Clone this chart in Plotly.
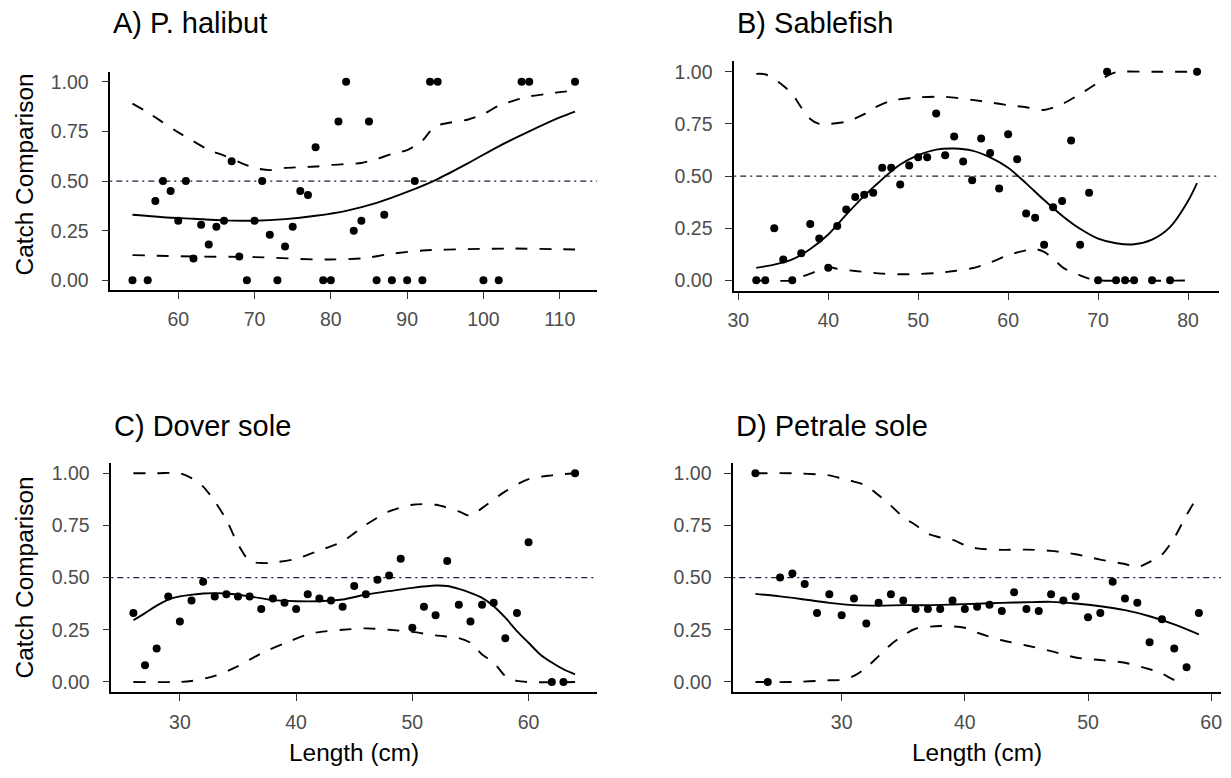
import plotly.graph_objects as go

# ---------------- A) P. halibut ----------------
hal_len = [54, 56, 57, 58, 59, 60, 61, 62, 63, 64, 65, 66, 67, 68, 69, 70, 71, 72, 73, 74, 75, 76,
           77, 78, 79, 80, 81, 82, 83, 84, 85, 86, 87, 88, 90, 91, 92, 93, 94, 100, 102, 105, 106, 112]
hal_obs = [0, 0, 0.40, 0.50, 0.45, 0.30, 0.50, 0.11, 0.28, 0.18, 0.27, 0.30, 0.60, 0.12, 0, 0.30,
           0.50, 0.23, 0, 0.17, 0.27, 0.45, 0.43, 0.67, 0, 0, 0.80, 1.0, 0.25, 0.30, 0.80, 0, 0.33,
           0, 0, 0.50, 0, 1, 1, 0, 0, 1, 1, 1]
hal_fit_len = [54, 58, 62, 66, 70, 74, 78, 82, 86, 90, 94, 98, 102, 106, 110, 112]
hal_fit = [0.33, 0.318, 0.31, 0.302, 0.30, 0.308, 0.325, 0.35, 0.39, 0.445, 0.51, 0.59, 0.675,
           0.75, 0.82, 0.85]
hal_hi_len = [54, 56, 58, 60, 62, 64, 66, 68, 70, 72, 74, 76, 78, 80, 84, 86, 88, 90, 92, 93, 94,
              95, 98, 100, 102, 104, 106, 108, 110, 112]
hal_hi = [0.89, 0.846, 0.795, 0.745, 0.70, 0.657, 0.628, 0.595, 0.566, 0.555, 0.566, 0.57, 0.573,
          0.581, 0.591, 0.611, 0.636, 0.656, 0.703, 0.75, 0.78, 0.79, 0.81, 0.837, 0.879, 0.905,
          0.926, 0.937, 0.948, 0.955]
hal_lo_len = [54, 62, 70, 78, 80, 84, 88, 92, 98, 104, 112]
hal_lo = [0.127, 0.12, 0.117, 0.105, 0.105, 0.11, 0.134, 0.15, 0.157, 0.16, 0.155]

# ---------------- B) Sablefish ----------------
sab_len = [32, 33, 34, 35, 36, 37, 38, 39, 40, 41, 42, 43, 44, 45, 46, 47, 48, 49, 50, 51, 52, 53,
           54, 55, 56, 57, 58, 59, 60, 61, 62, 63, 64, 65, 66, 67, 68, 69, 70, 71, 72, 73, 74, 76,
           78, 81]
sab_obs = [0, 0, 0.25, 0.10, 0, 0.13, 0.27, 0.20, 0.06, 0.26, 0.34, 0.40, 0.41, 0.42, 0.54, 0.54,
           0.46, 0.55, 0.59, 0.59, 0.80, 0.60, 0.69, 0.57, 0.48, 0.68, 0.61, 0.44, 0.70, 0.58, 0.32,
           0.30, 0.17, 0.35, 0.38, 0.67, 0.17, 0.42, 0, 1, 0, 0, 0, 0, 0, 1]
sab_fit_len = [32, 34, 36, 38, 40, 42, 44, 46, 48, 50, 52, 54, 56, 58, 60, 62, 64, 66, 68, 70, 72,
               74, 76, 78, 80, 81]
sab_fit = [0.06, 0.075, 0.10, 0.15, 0.22, 0.315, 0.405, 0.485, 0.555, 0.60, 0.627, 0.632, 0.622,
           0.59, 0.54, 0.465, 0.385, 0.31, 0.247, 0.20, 0.178, 0.173, 0.195, 0.255, 0.38, 0.466]
sab_hi_len = [32, 33, 34, 35, 36, 37, 38, 39, 40, 42, 44, 45, 47, 50, 53, 56, 58, 60, 62, 64, 66,
              68, 70, 71, 72, 76, 81]
sab_hi = [0.99, 0.988, 0.965, 0.933, 0.893, 0.829, 0.774, 0.75, 0.75, 0.761, 0.797, 0.825, 0.861,
          0.877, 0.88, 0.865, 0.853, 0.84, 0.83, 0.817, 0.845, 0.893, 0.949, 0.98, 0.998, 1, 1]
sab_lo_len = [32, 36, 37, 38, 40, 41, 43, 46, 49, 52, 54, 56, 58, 60, 62, 63, 64, 65, 66, 67, 68,
              69, 70, 81]
sab_lo = [0, 0, 0.016, 0.032, 0.064, 0.055, 0.045, 0.032, 0.029, 0.035, 0.045, 0.058, 0.085, 0.121,
          0.144, 0.15, 0.136, 0.104, 0.064, 0.04, 0.024, 0.008, 0, 0]

# ---------------- C) Dover sole ----------------
dov_len = [26, 27, 28, 29, 30, 31, 32, 33, 34, 35, 36, 37, 38, 39, 40, 41, 42, 43, 44, 45, 46, 47,
           48, 49, 50, 51, 52, 53, 54, 55, 56, 57, 58, 59, 60, 62, 63, 64]
dov_obs = [0.33, 0.08, 0.16, 0.41, 0.29, 0.39, 0.48, 0.41, 0.42, 0.41, 0.41, 0.35, 0.40, 0.38, 0.35,
           0.42, 0.40, 0.39, 0.36, 0.46, 0.42, 0.49, 0.51, 0.59, 0.26, 0.36, 0.32, 0.58, 0.37, 0.29,
           0.37, 0.38, 0.21, 0.33, 0.67, 0, 0, 1]
dov_fit_len = [26, 27, 28, 29, 30, 31, 32, 34, 36, 38, 40, 42, 44, 46, 48, 50, 52, 53, 54, 55, 56,
               57, 58, 59, 60, 61, 62, 63, 64]
dov_fit = [0.296, 0.33, 0.366, 0.395, 0.41, 0.418, 0.424, 0.424, 0.41, 0.392, 0.387, 0.387, 0.395,
           0.419, 0.435, 0.451, 0.462, 0.46, 0.446, 0.427, 0.403, 0.363, 0.308, 0.244, 0.188,
           0.132, 0.093, 0.061, 0.037]
dov_hi_len = [26, 28, 30, 31, 32, 33, 34, 35, 36, 37, 38, 40, 42, 44, 46, 48, 50, 52, 54, 55, 56,
              58, 60, 62, 64]
dov_hi = [1, 1, 1, 0.977, 0.936, 0.865, 0.777, 0.66, 0.58, 0.57, 0.572, 0.59, 0.63, 0.674, 0.753,
          0.817, 0.849, 0.849, 0.817, 0.796, 0.833, 0.913, 0.972, 0.99, 1.0]
dov_lo_len = [26, 30, 31, 33, 35, 37, 39, 41, 42, 44, 46, 48, 50, 52, 54, 55, 56, 57, 58, 59, 64]
dov_lo = [0, 0, 0.005, 0.029, 0.076, 0.137, 0.185, 0.228, 0.239, 0.25, 0.257, 0.25, 0.24, 0.223,
          0.21, 0.188, 0.132, 0.093, 0.029, 0.005, 0]

# ---------------- D) Petrale sole ----------------
pet_len = [23, 24, 25, 26, 27, 28, 29, 30, 31, 32, 33, 34, 35, 36, 37, 38, 39, 40, 41, 42, 43, 44,
           45, 46, 47, 48, 49, 50, 51, 52, 53, 54, 55, 56, 57, 58, 59]
pet_obs = [1, 0, 0.50, 0.52, 0.47, 0.33, 0.42, 0.32, 0.40, 0.28, 0.38, 0.42, 0.39, 0.35, 0.35, 0.35,
           0.39, 0.35, 0.36, 0.37, 0.34, 0.43, 0.35, 0.34, 0.42, 0.39, 0.41, 0.31, 0.33, 0.48, 0.40,
           0.38, 0.19, 0.30, 0.16, 0.07, 0.33]
pet_fit_len = [23, 25, 27, 29, 31, 33, 35, 37, 39, 41, 43, 45, 47, 49, 51, 53, 55, 57, 59]
pet_fit = [0.422, 0.41, 0.395, 0.379, 0.368, 0.366, 0.368, 0.368, 0.371, 0.375, 0.379, 0.382,
           0.384, 0.376, 0.363, 0.344, 0.315, 0.276, 0.228]
pet_hi_len = [23, 26, 28, 29, 30, 31, 32, 33, 34, 35, 36, 37, 38, 39, 40, 41, 43, 45, 47, 49, 51,
              53, 54, 55, 56, 57, 58, 59]
pet_hi = [1, 1, 0.995, 0.99, 0.975, 0.96, 0.94, 0.895, 0.845, 0.79, 0.752, 0.71, 0.692, 0.682,
          0.655, 0.64, 0.633, 0.634, 0.628, 0.612, 0.586, 0.565, 0.55, 0.575, 0.61, 0.69, 0.80, 0.897]
pet_lo_len = [23, 26, 29, 30, 31, 32, 33, 34, 35, 36, 38, 40, 41, 43, 45, 47, 49, 51, 53, 55, 56,
              57, 58]
pet_lo = [0, 0, 0.008, 0.01, 0.029, 0.069, 0.124, 0.18, 0.223, 0.255, 0.268, 0.26, 0.236, 0.2,
          0.175, 0.148, 0.117, 0.105, 0.092, 0.061, 0.041, 0.01, 0.01]

panel_titles = ["A) P. halibut", "B) Sablefish", "C) Dover sole", "D) Petrale sole"]
y_title = "Catch Comparison"
x_title = "Length (cm)"
y_ticks = [0, 0.25, 0.5, 0.75, 1.0]
x_ticks = [[60, 70, 80, 90, 100, 110], [30, 40, 50, 60, 70, 80], [30, 40, 50, 60], [30, 40, 50, 60]]

panels = [
    (hal_len, hal_obs, hal_fit_len, hal_fit, hal_hi_len, hal_hi, hal_lo_len, hal_lo),
    (sab_len, sab_obs, sab_fit_len, sab_fit, sab_hi_len, sab_hi, sab_lo_len, sab_lo),
    (dov_len, dov_obs, dov_fit_len, dov_fit, dov_hi_len, dov_hi, dov_lo_len, dov_lo),
    (pet_len, pet_obs, pet_fit_len, pet_fit, pet_hi_len, pet_hi, pet_lo_len, pet_lo),
]

W, H = 1231, 778
FONT = "Liberation Sans, Arial, sans-serif"

# plot-area boxes in pixels: (left, right, top, bottom) and title centre line
boxes = [(104, 594, 71, 290), (732, 1220, 60.5, 290.5), (105, 594, 463, 693.2), (731, 1222, 463, 693.2)]
title_y = [22.5, 22.5, 426.5, 426.5]


def px_x(v):
    return v / W


def px_y(v):
    return 1 - v / H


fig = go.Figure()
layout = dict(
    width=W, height=H, margin=dict(l=0, r=0, t=0, b=0), autosize=False,
    paper_bgcolor="white", plot_bgcolor="white", showlegend=False,
    font=dict(family=FONT, color="black"),
)
shapes, annotations = [], []

for i, (xl, yo, fx, fy, hx, hy, lx, ly) in enumerate(panels):
    n = "" if i == 0 else str(i + 1)
    xa, ya = "x" + n, "y" + n
    xmin, xmax = min(xl), max(xl)
    pad = 0.05 * (xmax - xmin)
    left, right, top, bottom = boxes[i]

    axis_common = dict(
        showline=True, linecolor="black", linewidth=1.6, mirror=False,
        ticks="outside", ticklen=7, tickwidth=1.4, tickcolor="#333333",
        showgrid=False, zeroline=False,
        tickfont=dict(size=19.5, color="#4d4d4d", family=FONT),
    )
    layout["xaxis" + n] = dict(
        axis_common, domain=[px_x(left), px_x(right)], anchor=ya,
        range=[xmin - pad, xmax + pad], tickvals=x_ticks[i], ticklabelstandoff=4,
    )
    layout["yaxis" + n] = dict(
        axis_common, domain=[px_y(bottom), px_y(top)], anchor=xa,
        range=[-0.05, 1.05], tickvals=y_ticks, tickformat=".2f", ticklabelstandoff=9,
    )

    # reference line at equal catch
    shapes.append(dict(
        type="line", xref=xa + " domain", yref=ya, x0=0, x1=1, y0=0.5, y1=0.5,
        line=dict(color="#1c1c3c", width=1.2, dash="2px,4px,6px,4px"), layer="below",
    ))

    band = dict(color="black", width=1.9, dash="12px,12px")
    fig.add_trace(go.Scatter(x=hx, y=hy, mode="lines", line=dict(band, shape="spline", smoothing=0.8),
                             xaxis=xa, yaxis=ya, hoverinfo="skip"))
    fig.add_trace(go.Scatter(x=lx, y=ly, mode="lines", line=dict(band, shape="spline", smoothing=0.8),
                             xaxis=xa, yaxis=ya, hoverinfo="skip"))
    fig.add_trace(go.Scatter(x=fx, y=fy, mode="lines",
                             line=dict(color="black", width=1.9, shape="spline", smoothing=0.8),
                             xaxis=xa, yaxis=ya, hoverinfo="skip"))
    fig.add_trace(go.Scatter(x=xl, y=yo, mode="markers",
                             marker=dict(color="black", size=8, line=dict(width=0)),
                             xaxis=xa, yaxis=ya))

    # panel title
    annotations.append(dict(
        text=panel_titles[i], xref="paper", yref="paper",
        x=px_x(left + 1), y=px_y(title_y[i]),
        xanchor="left", yanchor="middle", showarrow=False,
        font=dict(size=29, color="black", family=FONT),
    ))

# axis titles
for yc in (174, 578):
    annotations.append(dict(text=y_title, xref="paper", yref="paper", x=px_x(18), y=px_y(yc),
                            textangle=-90, xanchor="center", yanchor="middle", showarrow=False,
                            font=dict(size=24.4, color="black", family=FONT)))
for xc in (349, 976):
    annotations.append(dict(text=x_title, xref="paper", yref="paper", x=px_x(xc), y=px_y(753),
                            xanchor="center", yanchor="middle", showarrow=False,
                            font=dict(size=24.4, color="black", family=FONT)))

layout["shapes"] = shapes
layout["annotations"] = annotations
fig.update_layout(**layout)

fig.write_html("out.html")
